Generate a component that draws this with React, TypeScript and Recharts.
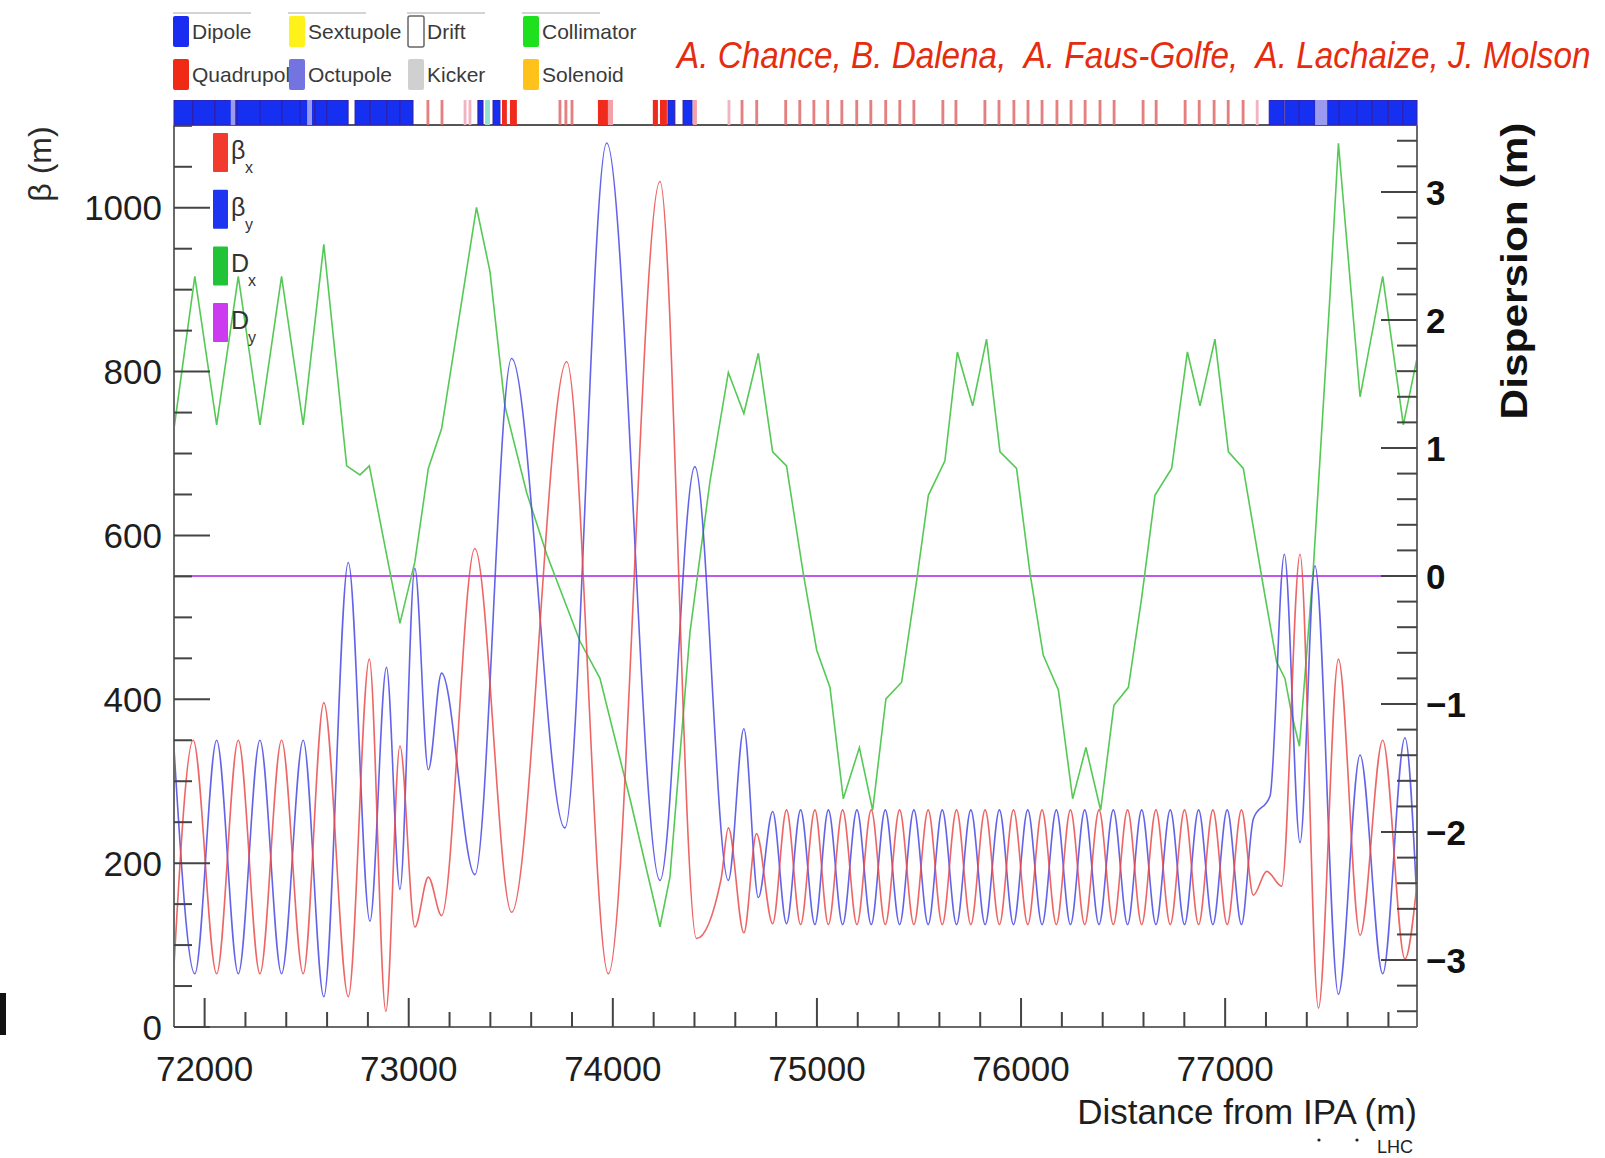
import React from "react";
import { ComposedChart, Line, XAxis, YAxis, ReferenceArea, ReferenceLine } from "recharts";

// page / plot frame geometry (px)
const W = 1605;
const H = 1158;
const PLOT_LEFT = 174;
const PLOT_RIGHT = 1417;
const PLOT_TOP = 125;
const PLOT_BOTTOM = 1027;
const BAR_TOP = 100;
const BAR_HEIGHT = PLOT_TOP - BAR_TOP;

const S_MIN = 71850;
const S_MAX = 77940;
const BETA_MAX = 1101;
const DISP_LIM = 3.523;

const FONT = "'Liberation Sans', Arial, Helvetica, sans-serif";

// axis ticks (majors get a label)
const sTicks = [
  72000, 72200, 72400, 72600, 72800, 73000, 73200, 73400, 73600, 73800, 74000, 74200, 74400, 74600, 74800,
  75000, 75200, 75400, 75600, 75800, 76000, 76200, 76400, 76600, 76800, 77000, 77200, 77400, 77600, 77800,
];
const betaTicks = [
  0, 50, 100, 150, 200, 250, 300, 350, 400, 450, 500, 550, 600, 650, 700, 750, 800, 850, 900, 950, 1000, 1050, 1100,
];
const dispTicks = [
  -3.4, -3.2, -3, -2.8, -2.6, -2.4, -2.2, -2, -1.8, -1.6, -1.4, -1.2, -1, -0.8, -0.6, -0.4, -0.2, 0,
  0.2, 0.4, 0.6, 0.8, 1, 1.2, 1.4, 1.6, 1.8, 2, 2.2, 2.4, 2.6, 2.8, 3, 3.2, 3.4,
];

// optics: [s (m), value]
const betaX: [number, number][] = [
  [71850, 75], [71944, 350], [72059, 65], [72165, 350], [72271, 65], [72377, 350], [72483, 65],
  [72584, 396], [72704, 37], [72807, 449], [72888, 19], [72957, 343], [73030, 122], [73096, 183],
  [73161, 136], [73324, 584], [73504, 140], [73774, 812], [73978, 65], [74231, 1032], [74410, 108],
  [74530, 180], [74566, 243], [74642, 115], [74704, 236], [74783, 126], [74851, 265], [74920, 125],
  [74990, 265], [75056, 125], [75126, 265], [75196, 125], [75266, 265], [75335, 125], [75405, 265],
  [75475, 125], [75545, 265], [75614, 125], [75684, 265], [75754, 125], [75824, 265], [75894, 125],
  [75963, 265], [76033, 125], [76103, 265], [76173, 125], [76242, 265], [76312, 125], [76382, 265],
  [76452, 125], [76522, 265], [76591, 125], [76661, 265], [76731, 125], [76801, 265], [76870, 125],
  [76940, 265], [77010, 125], [77080, 265], [77138, 161], [77204, 190], [77277, 172], [77367, 577],
  [77457, 23], [77555, 449], [77661, 112], [77772, 350], [77881, 83], [77940, 175],
];

const betaY: [number, number][] = [
  [71850, 340], [71952, 65], [72059, 350], [72165, 65], [72271, 350], [72377, 65], [72483, 350],
  [72584, 37], [72704, 567], [72810, 129], [72891, 439], [72957, 168], [73030, 560], [73096, 314],
  [73161, 432], [73324, 186], [73504, 816], [73765, 243], [73970, 1079], [74231, 179], [74402, 684],
  [74566, 179], [74642, 364], [74713, 158], [74783, 263], [74851, 126], [74920, 265], [74990, 125],
  [75056, 265], [75126, 125], [75196, 265], [75266, 125], [75335, 265], [75405, 125], [75475, 265],
  [75545, 125], [75614, 265], [75684, 125], [75754, 265], [75824, 125], [75894, 265], [75963, 125],
  [76033, 265], [76103, 125], [76173, 265], [76242, 125], [76312, 265], [76382, 125], [76452, 265],
  [76522, 125], [76591, 265], [76661, 125], [76731, 265], [76801, 125], [76870, 265], [76940, 125],
  [77010, 265], [77080, 125], [77138, 254], [77220, 282], [77290, 577], [77367, 225], [77440, 563],
  [77555, 40], [77661, 332], [77772, 65], [77881, 353], [77940, 150],
];

const dispX: [number, number][] = [
  [71850, 1.15], [71952, 2.34], [72059, 1.18], [72165, 2.34], [72271, 1.18], [72377, 2.34], [72483, 1.18],
  [72584, 2.59], [72696, 0.86], [72761, 0.79], [72807, 0.86], [72957, -0.37], [73030, 0.11], [73096, 0.84],
  [73161, 1.15], [73332, 2.88], [73398, 2.38], [73471, 1.33], [73578, 0.65], [73676, 0.17], [73839, -0.51],
  [73937, -0.8], [74084, -1.74], [74231, -2.74], [74280, -2.35], [74378, -0.44], [74476, 0.74], [74566, 1.59],
  [74642, 1.27], [74713, 1.74], [74783, 0.97], [74851, 0.86], [74933, 0.02], [74999, -0.58], [75064, -0.87],
  [75129, -1.74], [75208, -1.34], [75273, -1.83], [75338, -0.96], [75415, -0.83], [75489, -0.03], [75546, 0.63],
  [75627, 0.9], [75688, 1.75], [75763, 1.33], [75831, 1.85], [75897, 0.97], [75978, 0.84], [76044, 0.02],
  [76109, -0.62], [76183, -0.89], [76253, -1.74], [76318, -1.34], [76390, -1.83], [76455, -1.01], [76526, -0.87],
  [76591, -0.17], [76656, 0.63], [76738, 0.84], [76815, 1.75], [76877, 1.33], [76950, 1.85], [77016, 0.97],
  [77089, 0.84], [77187, -0.08], [77252, -0.67], [77293, -0.8], [77326, -1.08], [77364, -1.33], [77432, 0.06],
  [77514, 2.2], [77555, 3.38], [77661, 1.4], [77772, 2.34], [77873, 1.18], [77940, 1.7],
];

const dispY: [number, number][] = [
  [71850, 0], [77940, 0],
];

// lattice elements along s (m)
const dipoleSpans: [number, number][] = [
  [71850, 71943], [71943, 72051], [72051, 72159], [72159, 72271], [72271, 72379], [72379, 72467],
  [72467, 72541], [72541, 72600], [72600, 72703], [72737, 72811], [72811, 72894], [72894, 72957],
  [72957, 73021], [73339, 73364], [73413, 73447], [74270, 74304], [74344, 74388],
  [77216, 77289], [77294, 77363], [77363, 77441], [77500, 77559], [77559, 77647], [77647, 77720],
  [77720, 77799], [77799, 77872], [77872, 77940],
];
const octupoleSpans: [number, number][] = [[72128, 72150], [72502, 72526], [77441, 77500]];
const quadBlocks: [number, number][] = [[73457, 73481], [73496, 73530], [73927, 73976], [74196, 74221], [74231, 74265]];
const weakQuadBlocks: [number, number][] = [[73976, 74001], [74393, 74412]];
const collimatorSpans: [number, number][] = [[73374, 73398]];
const quadCentres = [
  73094, 73163, 73741, 73770, 73800, 74633, 74705, 74847, 74916, 74985, 75053, 75122, 75195, 75264,
  75337, 75406, 75475, 75617, 75681, 75823, 75892, 75965, 76034, 76103, 76176, 76245, 76314, 76387,
  76456, 76598, 76662, 76804, 76873, 76946, 77015, 77088,
];
const weakQuadCentres = [73276, 73300, 74569, 77157];
const QUAD_LEN = 14;

const elementLegend = [
  { name: "Dipole", color: "#1a2cf0", col: 0, row: 0 },
  { name: "Sextupole", color: "#fff21a", col: 1, row: 0 },
  { name: "Drift", color: "#ffffff", col: 2, row: 0 },
  { name: "Collimator", color: "#1fe01f", col: 3, row: 0 },
  { name: "Quadrupol", color: "#f02a14", col: 0, row: 1 },
  { name: "Octupole", color: "#7474e0", col: 1, row: 1 },
  { name: "Kicker", color: "#d0d0d0", col: 2, row: 1 },
  { name: "Solenoid", color: "#ffc21a", col: 3, row: 1 },
];
const legendCols = [173, 289, 408, 523];
const legendRows = [16, 59];

const opticsLegend = [
  { base: "β", sub: "x", color: "#f23a2e" },
  { base: "β", sub: "y", color: "#1f34f0" },
  { base: "D", sub: "x", color: "#22c437" },
  { base: "D", sub: "y", color: "#cc3bf0" },
];

const COLORS = { bx: "#ea4a4a", by: "#4848e6", dx: "#55c955", dy: "#c257f0" };

const toPoints = (rows: [number, number][]) => rows.map(([s, v]) => ({ s, v }));

const isMajorDisp = (v: number) => Math.abs(v - Math.round(v)) < 1e-6;

const BottomTick = (props: any) => {
  const { x, payload } = props;
  const v = payload.value as number;
  const major = v % 1000 === 0;
  return (
    <g>
      <line x1={x} x2={x} y1={PLOT_BOTTOM} y2={PLOT_BOTTOM - (major ? 29 : 15)} stroke="#444" strokeWidth={2} />
      {major && (
        <text x={x} y={1068} dy="0.36em" textAnchor="middle" fontSize={35} fontFamily={FONT} fill="#1e1e1e">
          {v}
        </text>
      )}
    </g>
  );
};

const LeftTick = (props: any) => {
  const { y, payload } = props;
  const v = payload.value as number;
  const major = v % 200 === 0;
  return (
    <g>
      <line x1={PLOT_LEFT} x2={PLOT_LEFT + (major ? 36 : 18)} y1={y} y2={y} stroke="#444" strokeWidth={2} />
      {major && (
        <text x={162} y={y} dy="0.36em" textAnchor="end" fontSize={35} fontFamily={FONT} fill="#1e1e1e">
          {v}
        </text>
      )}
    </g>
  );
};

const RightTick = (props: any) => {
  const { y, payload } = props;
  const v = payload.value as number;
  const major = isMajorDisp(v);
  const r = Math.round(v);
  return (
    <g>
      <line x1={PLOT_RIGHT} x2={PLOT_RIGHT - (major ? 36 : 20)} y1={y} y2={y} stroke="#444" strokeWidth={2} />
      {major && (
        <text x={1426} y={y} dy="0.36em" textAnchor="start" fontSize={35} fontWeight="bold" fontFamily={FONT} fill="#111">
          {r < 0 ? `\u2212${-r}` : r}
        </text>
      )}
    </g>
  );
};

// strip of lattice elements drawn above the optics plot, on the same s scale
const ElementBar = () => (
  <ComposedChart
    width={W}
    height={BAR_HEIGHT}
    margin={{ top: 0, right: W - PLOT_RIGHT, bottom: 0, left: PLOT_LEFT }}
  >
    <XAxis type="number" dataKey="s" domain={[S_MIN, S_MAX]} allowDataOverflow hide />
    <YAxis type="number" domain={[0, 1]} allowDataOverflow hide />
    <Line
      data={[{ s: S_MIN, v: 0 }, { s: S_MAX, v: 0 }]}
      dataKey="v"
      stroke="none"
      dot={false}
      isAnimationActive={false}
    />
    {weakQuadCentres.map((c) => (
      <ReferenceArea key={`wq${c}`} x1={c - QUAD_LEN / 2} x2={c + QUAD_LEN / 2} y1={0} y2={1} fill="#f3b3c3" fillOpacity={1} ifOverflow="visible" />
    ))}
    {quadCentres.map((c) => (
      <ReferenceArea key={`q${c}`} x1={c - QUAD_LEN / 2} x2={c + QUAD_LEN / 2} y1={0} y2={1} fill="#df6a6a" fillOpacity={0.85} ifOverflow="visible" />
    ))}
    {weakQuadBlocks.map(([a, b]) => (
      <ReferenceArea key={`wb${a}`} x1={a} x2={b} y1={0} y2={1} fill="#f6a0a8" fillOpacity={1} ifOverflow="visible" />
    ))}
    {quadBlocks.map(([a, b]) => (
      <ReferenceArea key={`qb${a}`} x1={a} x2={b} y1={0} y2={1} fill="#f02a1c" fillOpacity={1} ifOverflow="visible" />
    ))}
    {collimatorSpans.map(([a, b]) => (
      <ReferenceArea key={`c${a}`} x1={a} x2={b} y1={0} y2={1} fill="#93e2d2" fillOpacity={1} ifOverflow="visible" />
    ))}
    {dipoleSpans.map(([a, b]) => (
      <ReferenceArea key={`d${a}`} x1={a} x2={b} y1={0} y2={1} fill="#1630f2" fillOpacity={1} stroke="#3a1c96" strokeWidth={1} ifOverflow="visible" />
    ))}
    {octupoleSpans.map(([a, b]) => (
      <ReferenceArea key={`o${a}`} x1={a} x2={b} y1={0} y2={1} fill="#9a9aee" fillOpacity={1} ifOverflow="visible" />
    ))}
  </ComposedChart>
);

const Annotations = () => (
  <svg width={W} height={H} style={{ position: "absolute", left: 0, top: 0, pointerEvents: "none" }}>
    {/* element type key */}
    {[173, 288, 407, 522].map((x) => (
      <line key={x} x1={x} x2={x + 78} y1={13} y2={13} stroke="#d4d4d4" strokeWidth={2} />
    ))}
    {elementLegend.map((e) => {
      const x = legendCols[e.col];
      const y = legendRows[e.row];
      return (
        <g key={e.name}>
          <rect
            x={x}
            y={y}
            width={16}
            height={31}
            fill={e.color}
            stroke={e.name === "Drift" ? "#666" : "none"}
            strokeWidth={1.5}
            rx={2}
          />
          <text x={x + 19} y={y + 23} fontSize={21} fontFamily={FONT} fill="#3a3a3a">
            {e.name}
          </text>
        </g>
      );
    })}

    <g transform="translate(677 68) scale(0.9 1)">
      <text x={0} y={0} fontSize={37} fontStyle="italic" fontFamily={FONT} fill="#e62c0e" xmlSpace="preserve">
        A. Chance, B. Dalena,  A. Faus-Golfe,  A. Lachaize, J. Molson
      </text>
    </g>

    {/* optics key */}
    {opticsLegend.map((o, i) => {
      const top = 133 + i * 56.7;
      return (
        <g key={o.base + o.sub}>
          <rect x={213} y={top} width={15} height={39} fill={o.color} rx={1} />
          <text x={231} y={top + 26} fontSize={25} fontFamily={FONT} fill="#333">
            {o.base}
          </text>
          <text x={o.base === "β" ? 245 : 248} y={top + 40} fontSize={16} fontFamily={FONT} fill="#333">
            {o.sub}
          </text>
        </g>
      );
    })}

    <text
      transform="translate(51 164) rotate(-90)"
      textAnchor="middle"
      fontSize={32}
      fontFamily={FONT}
      fill="#2a2a2a"
    >
      β (m)
    </text>
    <text
      transform="translate(1527 271) rotate(-90)"
      textAnchor="middle"
      fontSize={36}
      fontWeight="bold"
      fontFamily={FONT}
      fill="#111"
      textLength={297}
      lengthAdjust="spacingAndGlyphs"
    >
      Dispersion (m)
    </text>
    <text x={PLOT_RIGHT} y={1124} textAnchor="end" fontSize={35} fontFamily={FONT} fill="#1e1e1e">
      Distance from IPA (m)
    </text>

    <circle cx={1319} cy={1140} r={1.6} fill="#222" />
    <circle cx={1357} cy={1140} r={1.6} fill="#222" />
    <text x={1377} y={1153} fontSize={18} fontFamily={FONT} fill="#222">LHC</text>

    <rect x={0} y={993} width={6} height={42} fill="#111" />
  </svg>
);

export default function App() {
  return (
    <div style={{ position: "absolute", left: 0, top: 0, width: W, height: H, background: "#fff", overflow: "hidden" }}>
      <div style={{ position: "absolute", left: 0, top: 0 }}>
        <ComposedChart width={W} height={H} margin={{ top: PLOT_TOP, right: 0, bottom: 0, left: 0 }}>
          <XAxis
            type="number"
            dataKey="s"
            domain={[S_MIN, S_MAX]}
            allowDataOverflow
            ticks={sTicks}
            interval={0}
            height={H - PLOT_BOTTOM}
            axisLine={{ stroke: "#6a6a6a", strokeWidth: 2 }}
            tickLine={false}
            tick={(p: any) => <BottomTick {...p} />}
          />
          <YAxis
            yAxisId="beta"
            orientation="left"
            type="number"
            domain={[0, BETA_MAX]}
            allowDataOverflow
            ticks={betaTicks}
            interval={0}
            width={PLOT_LEFT}
            axisLine={{ stroke: "#6a6a6a", strokeWidth: 2 }}
            tickLine={false}
            tick={(p: any) => <LeftTick {...p} />}
          />
          <YAxis
            yAxisId="disp"
            orientation="right"
            type="number"
            domain={[-DISP_LIM, DISP_LIM]}
            allowDataOverflow
            ticks={dispTicks}
            interval={0}
            width={W - PLOT_RIGHT}
            axisLine={{ stroke: "#6a6a6a", strokeWidth: 2 }}
            tickLine={false}
            tick={(p: any) => <RightTick {...p} />}
          />
          <ReferenceLine yAxisId="beta" y={BETA_MAX} stroke="#555" strokeWidth={2} />

          <Line
            yAxisId="disp"
            data={toPoints(dispY)}
            dataKey="v"
            type="linear"
            stroke={COLORS.dy}
            strokeWidth={1.8}
            dot={false}
            isAnimationActive={false}
          />
          <Line
            yAxisId="disp"
            data={toPoints(dispX)}
            dataKey="v"
            type="linear"
            stroke={COLORS.dx}
            strokeWidth={1.6}
            dot={false}
            isAnimationActive={false}
          />
          <Line
            yAxisId="beta"
            data={toPoints(betaY)}
            dataKey="v"
            type="monotone"
            stroke={COLORS.by}
            strokeWidth={1.6}
            strokeOpacity={0.85}
            dot={false}
            isAnimationActive={false}
          />
          <Line
            yAxisId="beta"
            data={toPoints(betaX)}
            dataKey="v"
            type="monotone"
            stroke={COLORS.bx}
            strokeWidth={1.6}
            strokeOpacity={0.85}
            dot={false}
            isAnimationActive={false}
          />
        </ComposedChart>
      </div>
      <div style={{ position: "absolute", left: 0, top: BAR_TOP }}>
        <ElementBar />
      </div>
      <Annotations />
    </div>
  );
}
